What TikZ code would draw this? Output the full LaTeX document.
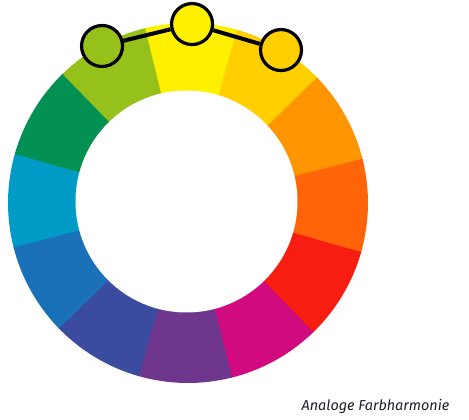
\documentclass[tikz,border=0pt]{standalone}
\usepackage{fontspec}
\usetikzlibrary{calc}
\newfontfamily\capfont{Fira Sans}
\definecolor{cYe}{HTML}{FFF000}
\definecolor{cYO}{HTML}{FFCF00}
\definecolor{cOr}{HTML}{FF9500}
\definecolor{cRO}{HTML}{FF6408}
\definecolor{cRe}{HTML}{F71D10}
\definecolor{cMa}{HTML}{D20A80}
\definecolor{cPu}{HTML}{6F368E}
\definecolor{cBV}{HTML}{3B4BA0}
\definecolor{cBl}{HTML}{1A71B8}
\definecolor{cCy}{HTML}{009AC7}
\definecolor{cGr}{HTML}{039053}
\definecolor{cYG}{HTML}{95C11A}
\definecolor{capcol}{HTML}{1E1E2A}
\begin{document}
\begin{tikzpicture}[x=1pt,y=1pt,
  marker/.style={circle,draw=black,line width=3.2pt,minimum size=41pt,inner sep=0pt},
  link/.style={draw=black,line width=4pt},
  caption/.style={font=\capfont\itshape\fontsize{14.4}{16}\selectfont,text=capcol,inner sep=0pt,anchor=base west}]
\useasboundingbox (0,0) rectangle (469,420);
\coordinate (C) at (188,217);
\foreach \a/\c in {89/cYe,59/cYO,29/cOr,-1/cRO,-31/cRe,-61/cMa,-91/cPu,-121/cBV,-151/cBl,179/cCy,149/cGr,119/cYG}{
  \fill[\c] (C) -- ++(\a-15.2:180) arc[start angle=\a-15.2,end angle=\a+15.2,radius=180] -- cycle;
}
\fill[white] (186.5,218.5) circle[radius=111];
\node[marker,fill=cYG] (g) at ($(C)+(118.7:179)$) {};
\node[marker,fill=cYe] (y) at ($(C)+(88.7:179)$) {};
\node[marker,fill=cYO] (o) at ($(C)+(58.7:179)$) {};
\path[link] (g) -- (y) -- (o);
\node[caption] (cap) at (301.5,9.3) {Analoge Farbharmonie};
\end{tikzpicture}
\end{document}
